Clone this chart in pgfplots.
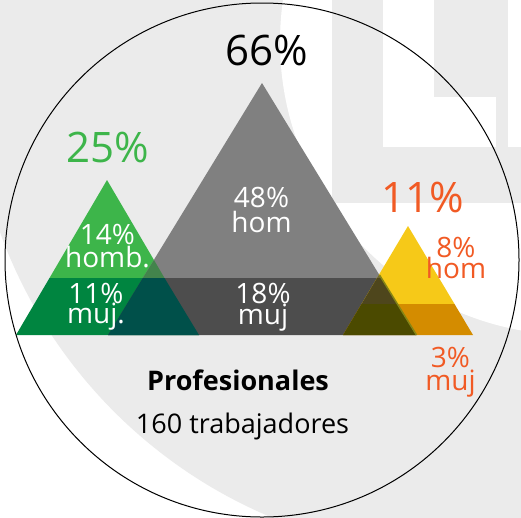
\documentclass[border=0pt]{standalone}
\usepackage{pgfplots}
\pgfplotsset{compat=1.18}
\usepackage{fontspec}
\setmainfont{Open Sans}
\definecolor{bggrey}{HTML}{EBEBEB}
\definecolor{glight}{HTML}{3DB54A}
\definecolor{gdark}{HTML}{008540}
\definecolor{gov1}{HTML}{43844C}
\definecolor{gov2}{HTML}{00504A}
\definecolor{greyt}{HTML}{808080}
\definecolor{greyb}{HTML}{4D4D4D}
\definecolor{ylight}{HTML}{F6C918}
\definecolor{ydark}{HTML}{D48C00}
\definecolor{yov0}{HTML}{6E6638}
\definecolor{yov1}{HTML}{4E461C}
\definecolor{yov2}{HTML}{4B4A00}
\definecolor{yline}{HTML}{858515}
\definecolor{orangetxt}{HTML}{F15A24}
\newcommand{\fs}[1]{\fontsize{#1}{#1}\selectfont}
\newcommand{\two}[3]{\vtop{\fs{28}\baselineskip=#1pt\lineskiplimit=-100pt\lineskip=0pt\halign{\hfil##\hfil\cr #2\cr #3\cr}}}
\begin{document}
\begin{tikzpicture}
\begin{axis}[scale only axis, width=521pt, height=517pt,
  xmin=0, xmax=521, ymin=0, ymax=517, y dir=reverse, hide axis, clip=true]
% background
\addplot[fill=white, draw=none, forget plot] coordinates {(0,0) (521,0) (521,517) (0,517)} -- cycle;
\fill[bggrey] (axis cs:460,66) circle[radius=489];
\fill[white] (axis cs:573,42) circle[radius=293];
\fill[bggrey] (axis cs:332,0) rectangle (axis cs:383,203);
\fill[bggrey] (axis cs:332,147) rectangle (axis cs:521,203);
\fill[bggrey] (axis cs:434,0) rectangle (axis cs:508,97);
\fill[bggrey] (axis cs:496,97) rectangle (axis cs:508,147);
% green triangle
\addplot[fill=glight, draw=none, forget plot] coordinates {(107,180) (164.5,278) (49.5,278)} -- cycle;
\addplot[fill=gdark, draw=none, forget plot] coordinates {(49.5,278) (164.5,278) (199,335) (16,335)} -- cycle;
% grey triangle
\addplot[fill=greyt, draw=none, forget plot] coordinates {(262,83) (381.2,278) (142.8,278)} -- cycle;
\addplot[fill=greyb, draw=none, forget plot] coordinates {(142.8,278) (381.2,278) (416,335) (108,335)} -- cycle;
% yellow triangle
\addplot[fill=ylight, draw=none, forget plot] coordinates {(408,226) (454.5,304) (361.5,304)} -- cycle;
\addplot[fill=ydark, draw=none, forget plot] coordinates {(361.5,304) (454.5,304) (473,335) (343,335)} -- cycle;
% overlaps
\addplot[fill=gov1, draw=none, forget plot] coordinates {(154,260) (164.5,278) (142.8,278)} -- cycle;
\addplot[fill=gov2, draw=none, forget plot] coordinates {(142.8,278) (164.5,278) (199,335) (108,335)} -- cycle;
\addplot[fill=yov0, draw=none, forget plot] coordinates {(379,274.5) (381.2,278) (377,278)} -- cycle;
\addplot[fill=yov1, draw=none, forget plot] coordinates {(377,278) (381.2,278) (397.1,304) (361.5,304)} -- cycle;
\addplot[fill=yov2, draw=none, forget plot] coordinates {(361.5,304) (397.1,304) (416,335) (343,335)} -- cycle;
\addplot[draw=yline, line width=1.5pt, forget plot] coordinates {(379.5,275) (416.5,335)};
% circle outline
\draw[black, line width=1pt] (axis cs:262,260) circle[radius=257];
% texts
\begin{scope}[every node/.style={anchor=base, inner sep=0pt, outer sep=0pt}]
\node[text=black] at (axis cs:267,65) {\fs{42}66\%};
\node[text=glight] at (axis cs:107.5,162) {\fs{42}25\%};
\node[text=orangetxt] at (axis cs:423,212) {\fs{42}11\%};
\node[text=white] at (axis cs:261.5,207) {\two{25}{48\%}{hom}};
\node[text=white] at (axis cs:107.5,244) {\two{23}{14\%}{homb.}};
\node[text=white] at (axis cs:96,303) {\two{20}{11\%}{muj.}};
\node[text=white] at (axis cs:263,303) {\two{21}{18\%}{muj}};
\node[text=orangetxt] at (axis cs:456,257) {\two{21}{8\%}{hom}};
\node[text=orangetxt] at (axis cs:450.5,367) {\two{23}{3\%}{muj}};
\node[text=black] at (axis cs:238,390) {\fs{27}\bfseries Profesionales};
\node[text=black] at (axis cs:242.5,433) {\fs{27}160 trabajadores};
\end{scope}
\end{axis}
\pgfresetboundingbox
\useasboundingbox (current axis.south west) rectangle (current axis.north east);
\end{tikzpicture}
\end{document}
